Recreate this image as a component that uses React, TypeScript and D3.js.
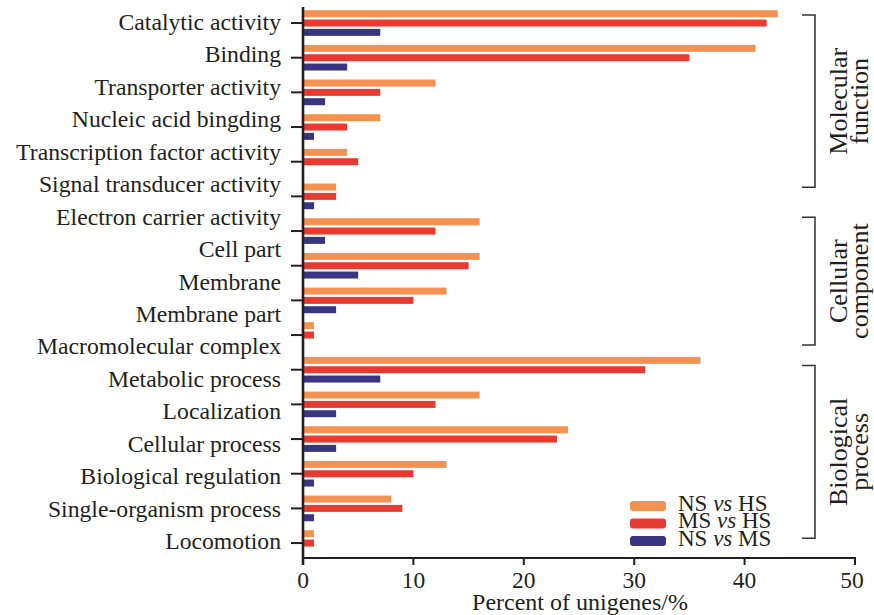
import React from "react";
import * as d3 from "d3";

// Bar groups in drawing order, top to bottom
const groups = [
  "g1", "g2", "g3", "g4", "g5", "g6", "g7", "g8",
  "g9", "g10", "g11", "g12", "g13", "g14", "g15", "g16",
];

// Axis labels listed down the left side
const categoryLabels = [
  "Catalytic activity",
  "Binding",
  "Transporter activity",
  "Nucleic acid bingding",
  "Transcription factor activity",
  "Signal transducer activity",
  "Electron carrier activity",
  "Cell part",
  "Membrane",
  "Membrane part",
  "Macromolecular complex",
  "Metabolic process",
  "Localization",
  "Cellular process",
  "Biological regulation",
  "Single-organism process",
  "Locomotion",
];

const seriesNames = ["NS vs HS", "MS vs HS", "NS vs MS"];

// Percent of unigenes per group
const nsVsHs = [43, 41, 12, 7, 4, 3, 16, 16, 13, 1, 36, 16, 24, 13, 8, 1];
const msVsHs = [42, 35, 7, 4, 5, 3, 12, 15, 10, 1, 31, 12, 23, 10, 9, 1];
const nsVsMs = [7, 4, 2, 1, 0, 1, 2, 5, 3, 0, 7, 3, 3, 1, 1, 0];

const xTicks = [0, 10, 20, 30, 40, 50];

// GO domains and the (fractional) group span each bracket covers
const domainNames: [string, string][] = [
  ["Molecular", "function"],
  ["Cellular", "component"],
  ["Biological", "process"],
];
const domainSpans: [number, number][] = [
  [-0.23, 4.74],
  [5.6, 9.29],
  [9.88, 14.86],
];

const colors = ["#F39250", "#E73A31", "#3A3581"];
const FONT = "'Liberation Serif', 'Times New Roman', serif";
const INK = "#231F20";

export default function App() {
  const width = 874;
  const height = 615;

  const x = d3.scaleLinear().domain([0, 50]).range([303, 855]);
  const y = d3.scaleBand<string>().domain(groups).range([5.7, 560.4]);
  const yInner = d3
    .scaleBand<string>()
    .domain(seriesNames)
    .range([-14, 14])
    .paddingInner(0.25)
    .paddingOuter(0.125);
  const yLabel = d3.scalePoint<string>().domain(categoryLabels).range([22, 541]);
  // group index -> centre of that group
  const yIndex = d3
    .scaleLinear()
    .domain([0, groups.length - 1])
    .range([y(groups[0])! + y.bandwidth() / 2, y(groups[groups.length - 1])! + y.bandwidth() / 2]);

  const seriesValues = [nsVsHs, msVsHs, nsVsMs];
  const center = (g: string) => (y(g) ?? 0) + y.bandwidth() / 2;

  const axisY = 558;

  return (
    <svg
      width={width}
      height={height}
      style={{ position: "absolute", left: 0, top: 0, background: "#fff" }}
      fontFamily={FONT}
    >
      {/* bars */}
      {seriesValues.map((vals, si) => (
        <g key={seriesNames[si]} fill={colors[si]}>
          {vals.map((v, gi) =>
            v > 0 ? (
              <rect
                key={gi}
                x={x(0)}
                y={center(groups[gi]) + (yInner(seriesNames[si]) ?? 0)}
                width={x(v) - x(0)}
                height={yInner.bandwidth()}
              />
            ) : null
          )}
        </g>
      ))}

      {/* y axis with category ticks */}
      <line x1={x(0)} x2={x(0)} y1={7} y2={565} stroke={INK} strokeWidth={2.6} />
      {groups.map((g) => (
        <line key={g} x1={291} x2={x(0)} y1={center(g)} y2={center(g)} stroke={INK} strokeWidth={2} />
      ))}
      {categoryLabels.map((c) => (
        <text key={c} x={281} y={(yLabel(c) ?? 0) + 8} textAnchor="end" fontSize={23.7} fill={INK}>
          {c}
        </text>
      ))}

      {/* x axis */}
      <line x1={x(0)} x2={x(50) + 1} y1={axisY} y2={axisY} stroke={INK} strokeWidth={2} />
      {xTicks.map((t) => (
        <g key={t}>
          <line x1={x(t)} x2={x(t)} y1={axisY} y2={axisY + 7} stroke={INK} strokeWidth={2} />
          <text x={x(t) - (t === 50 ? 3 : 0)} y={588} textAnchor="middle" fontSize={23.5} fill={INK}>
            {t}
          </text>
        </g>
      ))}
      <text x={580} y={610} textAnchor="middle" fontSize={24} fill={INK}>
        Percent of unigenes/%
      </text>

      {/* domain brackets */}
      {domainSpans.map(([a, b], i) => {
        const top = yIndex(a);
        const bottom = yIndex(b);
        const mid = (top + bottom) / 2;
        return (
          <g key={i}>
            <path d={`M802,${top}H815V${bottom}H802`} fill="none" stroke="#333" strokeWidth={1.5} />
            <text
              transform={`translate(847,${mid}) rotate(-90)`}
              textAnchor="middle"
              fontSize={26}
              fill={INK}
            >
              {domainNames[i][0]}
            </text>
            <text
              transform={`translate(868,${mid}) rotate(-90)`}
              textAnchor="middle"
              fontSize={26}
              fill={INK}
            >
              {domainNames[i][1]}
            </text>
          </g>
        );
      })}

      {/* legend */}
      {seriesNames.map((s, i) => {
        const [a, , b] = s.split(" ");
        const rowY = 501 + i * 17.5;
        return (
          <g key={s}>
            <rect x={630} y={rowY} width={36} height={10} rx={3} fill={colors[i]} />
            <text x={678} y={rowY + 9.5} fontSize={23} fill={INK}>
              {a} <tspan fontStyle="italic">vs</tspan> {b}
            </text>
          </g>
        );
      })}
    </svg>
  );
}
